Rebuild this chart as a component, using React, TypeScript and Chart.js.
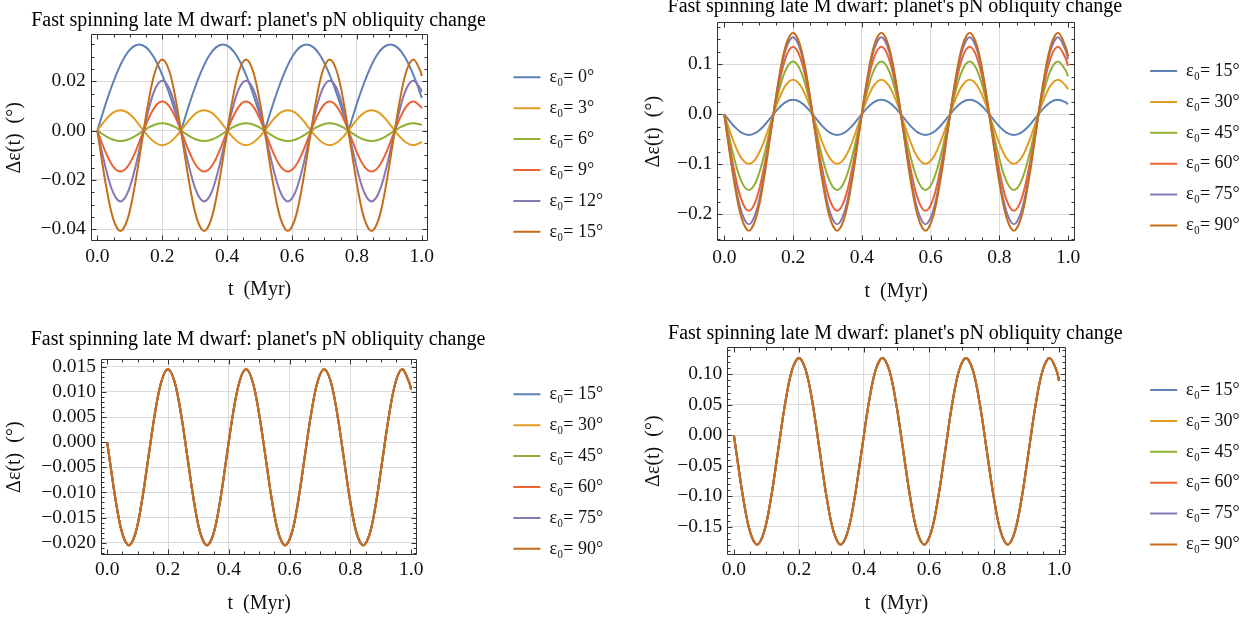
import React, { useEffect, useRef } from 'react';
import { Chart, registerables } from 'chart.js';

Chart.register(...registerables);

// ---------------- data ----------------
const TITLE = "Fast spinning late M dwarf: planet's pN obliquity change";
const X_TITLE = 't  (Myr)';
const Y_TITLE = 'Δε(t)  (°)';
const LABELS_TOP_LEFT = ['ε₀= 0°', 'ε₀= 3°', 'ε₀= 6°', 'ε₀= 9°', 'ε₀= 12°', 'ε₀= 15°'];
const LABELS_OTHER = ['ε₀= 15°', 'ε₀= 30°', 'ε₀= 45°', 'ε₀= 60°', 'ε₀= 75°', 'ε₀= 90°'];

// top-left panel: sample times (Myr)
const P1_T = [0, 0.0067, 0.0282, 0.0497, 0.0712, 0.0927, 0.1142, 0.1357, 0.1572, 0.1787, 0.2002, 0.2217, 0.2432,
  0.2647, 0.2862, 0.3077, 0.3292, 0.3507, 0.3722, 0.3937, 0.4152, 0.4367, 0.4582, 0.4797, 0.5012,
  0.5227, 0.5442, 0.5657, 0.5872, 0.6087, 0.6302, 0.6517, 0.6732, 0.6947, 0.7162, 0.7377, 0.7592,
  0.7807, 0.8022, 0.8237, 0.8452, 0.8667, 0.8882, 0.9097, 0.9312, 0.9527, 0.9742, 0.9957, 1];
// eps0 = 0 deg curve has cusps at its zeros (repeated sample marks the cusp)
const P1_T_EPS0 = [0, 0.0215, 0.0430, 0.0645, 0.0860, 0.1075, 0.1290, 0.1505, 0.1720, 0.1935, 0.2150, 0.2365, 0.2580, 0.2580,
  0.2795, 0.3010, 0.3225, 0.3440, 0.3655, 0.3870, 0.4085, 0.4300, 0.4515, 0.4730, 0.4945, 0.5160, 0.5160,
  0.5375, 0.5590, 0.5805, 0.6020, 0.6235, 0.6450, 0.6665, 0.6880, 0.7095, 0.7310, 0.7525, 0.7740, 0.7740,
  0.7955, 0.8170, 0.8385, 0.8600, 0.8815, 0.9030, 0.9245, 0.9460, 0.9675, 0.9890, 1];
const P1_EPS0 = [0, 0.0091, 0.0175, 0.0247, 0.0303, 0.0338, 0.0350, 0.0338, 0.0303, 0.0247, 0.0175, 0.0091, 0, 0,
  0.0091, 0.0175, 0.0247, 0.0303, 0.0338, 0.0350, 0.0338, 0.0303, 0.0247, 0.0175, 0.0091, 0, 0,
  0.0091, 0.0175, 0.0247, 0.0303, 0.0338, 0.0350, 0.0338, 0.0303, 0.0247, 0.0175, 0.0091, 0, 0,
  0.0091, 0.0175, 0.0247, 0.0303, 0.0338, 0.0350, 0.0338, 0.0303, 0.0247, 0.0175, 0.0133];
const P1_EPS3 = [0,
  0.0012, 0.0048, 0.0074, 0.0083, 0.0074, 0.0048, 0.0012, -0.0023, -0.0049, -0.0059, -0.0049, -0.0023,
  0.0012, 0.0048, 0.0074, 0.0083, 0.0074, 0.0048, 0.0012, -0.0023, -0.0049, -0.0059, -0.0049, -0.0023,
  0.0012, 0.0048, 0.0074, 0.0083, 0.0074, 0.0048, 0.0012, -0.0023, -0.0049, -0.0059, -0.0049, -0.0023,
  0.0012, 0.0048, 0.0074, 0.0083, 0.0074, 0.0048, 0.0012, -0.0023, -0.0049, -0.0059, -0.0049, -0.0045];
const P1_EPS6 = [0,
  -0.0006, -0.0024, -0.0037, -0.0042, -0.0037, -0.0024, -0.0006, 0.0012, 0.0025, 0.0030, 0.0025, 0.0012,
  -0.0006, -0.0024, -0.0037, -0.0042, -0.0037, -0.0024, -0.0006, 0.0012, 0.0025, 0.0030, 0.0025, 0.0012,
  -0.0006, -0.0024, -0.0037, -0.0042, -0.0037, -0.0024, -0.0006, 0.0012, 0.0025, 0.0030, 0.0025, 0.0012,
  -0.0006, -0.0024, -0.0037, -0.0042, -0.0037, -0.0024, -0.0006, 0.0012, 0.0025, 0.0030, 0.0025, 0.0023];
const P1_EPS9 = [0,
  -0.0024, -0.0095, -0.0147, -0.0166, -0.0147, -0.0095, -0.0024, 0.0047, 0.0099, 0.0118, 0.0099, 0.0047,
  -0.0024, -0.0095, -0.0147, -0.0166, -0.0147, -0.0095, -0.0024, 0.0047, 0.0099, 0.0118, 0.0099, 0.0047,
  -0.0024, -0.0095, -0.0147, -0.0166, -0.0147, -0.0095, -0.0024, 0.0047, 0.0099, 0.0118, 0.0099, 0.0047,
  -0.0024, -0.0095, -0.0147, -0.0166, -0.0147, -0.0095, -0.0024, 0.0047, 0.0099, 0.0118, 0.0099, 0.0091];
const P1_EPS12 = [0,
  -0.0042, -0.0164, -0.0254, -0.0287, -0.0254, -0.0164, -0.0042, 0.0081, 0.0171, 0.0203, 0.0171, 0.0081,
  -0.0042, -0.0164, -0.0254, -0.0287, -0.0254, -0.0164, -0.0042, 0.0081, 0.0171, 0.0203, 0.0171, 0.0081,
  -0.0042, -0.0164, -0.0254, -0.0287, -0.0254, -0.0164, -0.0042, 0.0081, 0.0171, 0.0203, 0.0171, 0.0081,
  -0.0042, -0.0164, -0.0254, -0.0287, -0.0254, -0.0164, -0.0042, 0.0081, 0.0171, 0.0203, 0.0171, 0.0157];
const P1_EPS15 = [0,
  -0.0059, -0.0233, -0.0361, -0.0407, -0.0361, -0.0233, -0.0059, 0.0115, 0.0242, 0.0289, 0.0242, 0.0115,
  -0.0059, -0.0233, -0.0361, -0.0407, -0.0361, -0.0233, -0.0059, 0.0115, 0.0242, 0.0289, 0.0242, 0.0115,
  -0.0059, -0.0233, -0.0361, -0.0407, -0.0361, -0.0233, -0.0059, 0.0115, 0.0242, 0.0289, 0.0242, 0.0115,
  -0.0059, -0.0233, -0.0361, -0.0407, -0.0361, -0.0233, -0.0059, 0.0115, 0.0242, 0.0289, 0.0242, 0.0222];

// the three other panels share this time grid (Myr)
const T_GRID = [0, 0.0070, 0.0284, 0.0498, 0.0712, 0.0926, 0.1140, 0.1355, 0.1569, 0.1783, 0.1997, 0.2212, 0.2426,
  0.2640, 0.2854, 0.3068, 0.3282, 0.3497, 0.3711, 0.3925, 0.4139, 0.4353, 0.4567, 0.4781, 0.4995,
  0.5210, 0.5424, 0.5638, 0.5852, 0.6066, 0.6280, 0.6495, 0.6709, 0.6923, 0.7137, 0.7351, 0.7565,
  0.7780, 0.7994, 0.8208, 0.8422, 0.8636, 0.8850, 0.9065, 0.9279, 0.9493, 0.9707, 0.9921, 1];

// top-right panel
const P2_EPS15 = [0,
  -0.0062, -0.0238, -0.0367, -0.0414, -0.0367, -0.0238, -0.0062, 0.0114, 0.0243, 0.0290, 0.0243, 0.0114,
  -0.0062, -0.0238, -0.0367, -0.0414, -0.0367, -0.0238, -0.0062, 0.0114, 0.0243, 0.0290, 0.0243, 0.0114,
  -0.0062, -0.0238, -0.0367, -0.0414, -0.0367, -0.0238, -0.0062, 0.0114, 0.0243, 0.0290, 0.0243, 0.0114,
  -0.0062, -0.0238, -0.0367, -0.0414, -0.0367, -0.0238, -0.0062, 0.0114, 0.0243, 0.0290, 0.0243, 0.0203];
const P2_EPS30 = [0,
  -0.0149, -0.0569, -0.0877, -0.0990, -0.0877, -0.0569, -0.0149, 0.0272, 0.0579, 0.0692, 0.0579, 0.0272,
  -0.0149, -0.0569, -0.0877, -0.0990, -0.0877, -0.0569, -0.0149, 0.0272, 0.0579, 0.0692, 0.0579, 0.0272,
  -0.0149, -0.0569, -0.0877, -0.0990, -0.0877, -0.0569, -0.0149, 0.0272, 0.0579, 0.0692, 0.0579, 0.0272,
  -0.0149, -0.0569, -0.0877, -0.0990, -0.0877, -0.0569, -0.0149, 0.0272, 0.0579, 0.0692, 0.0579, 0.0500];
const P2_EPS45 = [0,
  -0.0227, -0.0870, -0.1340, -0.1512, -0.1340, -0.0870, -0.0227, 0.0415, 0.0885, 0.1058, 0.0885, 0.0415,
  -0.0227, -0.0870, -0.1340, -0.1512, -0.1340, -0.0870, -0.0227, 0.0415, 0.0885, 0.1058, 0.0885, 0.0415,
  -0.0227, -0.0870, -0.1340, -0.1512, -0.1340, -0.0870, -0.0227, 0.0415, 0.0885, 0.1058, 0.0885, 0.0415,
  -0.0227, -0.0870, -0.1340, -0.1512, -0.1340, -0.0870, -0.0227, 0.0415, 0.0885, 0.1058, 0.0885, 0.0760];
const P2_EPS60 = [0,
  -0.0290, -0.1110, -0.1711, -0.1930, -0.1711, -0.1110, -0.0290, 0.0530, 0.1130, 0.1350, 0.1130, 0.0530,
  -0.0290, -0.1110, -0.1711, -0.1930, -0.1711, -0.1110, -0.0290, 0.0530, 0.1130, 0.1350, 0.1130, 0.0530,
  -0.0290, -0.1110, -0.1711, -0.1930, -0.1711, -0.1110, -0.0290, 0.0530, 0.1130, 0.1350, 0.1130, 0.0530,
  -0.0290, -0.1110, -0.1711, -0.1930, -0.1711, -0.1110, -0.0290, 0.0530, 0.1130, 0.1350, 0.1130, 0.0965];
const P2_EPS75 = [0,
  -0.0331, -0.1266, -0.1950, -0.2201, -0.1950, -0.1266, -0.0331, 0.0604, 0.1288, 0.1539, 0.1288, 0.0604,
  -0.0331, -0.1266, -0.1950, -0.2201, -0.1950, -0.1266, -0.0331, 0.0604, 0.1288, 0.1539, 0.1288, 0.0604,
  -0.0331, -0.1266, -0.1950, -0.2201, -0.1950, -0.1266, -0.0331, 0.0604, 0.1288, 0.1539, 0.1288, 0.0604,
  -0.0331, -0.1266, -0.1950, -0.2201, -0.1950, -0.1266, -0.0331, 0.0604, 0.1288, 0.1539, 0.1288, 0.1100];
const P2_EPS90 = [0,
  -0.0350, -0.1340, -0.2065, -0.2330, -0.2065, -0.1340, -0.0350, 0.0640, 0.1364, 0.1630, 0.1364, 0.0640,
  -0.0350, -0.1340, -0.2065, -0.2330, -0.2065, -0.1340, -0.0350, 0.0640, 0.1364, 0.1630, 0.1364, 0.0640,
  -0.0350, -0.1340, -0.2065, -0.2330, -0.2065, -0.1340, -0.0350, 0.0640, 0.1364, 0.1630, 0.1364, 0.0640,
  -0.0350, -0.1340, -0.2065, -0.2330, -0.2065, -0.1340, -0.0350, 0.0640, 0.1364, 0.1630, 0.1364, 0.1160];

// bottom-left panel: the six curves coincide
const P3_ALL = [0,
  -0.0030, -0.0118, -0.0182, -0.0205, -0.0182, -0.0118, -0.0030, 0.0057, 0.0121, 0.0145, 0.0121, 0.0057,
  -0.0030, -0.0118, -0.0182, -0.0205, -0.0182, -0.0118, -0.0030, 0.0057, 0.0121, 0.0145, 0.0121, 0.0057,
  -0.0030, -0.0118, -0.0182, -0.0205, -0.0182, -0.0118, -0.0030, 0.0057, 0.0121, 0.0145, 0.0121, 0.0057,
  -0.0030, -0.0118, -0.0182, -0.0205, -0.0182, -0.0118, -0.0030, 0.0057, 0.0121, 0.0145, 0.0121, 0.0105];
// bottom-right panel: the six curves coincide
const P4_ALL = [0,
  -0.0263, -0.1028, -0.1588, -0.1793, -0.1588, -0.1028, -0.0263, 0.0502, 0.1062, 0.1267, 0.1062, 0.0502,
  -0.0263, -0.1028, -0.1588, -0.1793, -0.1588, -0.1028, -0.0263, 0.0502, 0.1062, 0.1267, 0.1062, 0.0502,
  -0.0263, -0.1028, -0.1588, -0.1793, -0.1588, -0.1028, -0.0263, 0.0502, 0.1062, 0.1267, 0.1062, 0.0502,
  -0.0263, -0.1028, -0.1588, -0.1793, -0.1588, -0.1028, -0.0263, 0.0502, 0.1062, 0.1267, 0.1062, 0.0892];

// ---------------- styling / layout ----------------
const SERIF = '"Liberation Serif", "Times New Roman", "DejaVu Serif", serif';
const COLORS = ['#5E81B5', '#E19C24', '#8FB032', '#EB6235', '#8778B3', '#C56E1A'];
const GRID = '#dadada';
const INK = '#111111';
const CANVAS_H = 310;
const LEGEND_W = 115;      // legend box width (text must fit inside, it is clipped)
const LEGEND_PAD = 12.9;   // legend label padding (also row spacing)

type Series = { label: string; t: number[]; y: number[] };

interface PanelLayout {
  top: number;            // page y of the canvas
  panelRight: number;     // page x where this panel's canvas ends
  areaL: number; areaR: number; // page x of plot frame
  legendLine: number;     // page x where legend swatches start
  yTitleX: number;        // page x of y-title centre
  xAxisH: number; padB: number; xTickPad: number;
  titlePadTop: number; titlePadBottom: number; legendSpacer: number;
}

interface PanelSpec {
  series: Series[];
  yMin: number; yMax: number; yStep: number; yDec: number; yMinor: number;
  lay: PanelLayout;
}

const mk = (labels: string[], ts: number[][], ys: number[][]): Series[] =>
  labels.map((label, i) => ({ label, t: ts[i], y: ys[i] }));

const PANELS: PanelSpec[] = [
  {
    series: mk(LABELS_TOP_LEFT, [P1_T_EPS0, P1_T, P1_T, P1_T, P1_T, P1_T],
      [P1_EPS0, P1_EPS3, P1_EPS6, P1_EPS9, P1_EPS12, P1_EPS15]),
    yMin: -0.0449, yMax: 0.0391, yStep: 0.02, yDec: 2, yMinor: 0.005,
    lay: { top: 0, panelRight: 626, areaL: 90.7, areaR: 426, legendLine: 511, yTitleX: 15,
      xAxisH: 60.7, padB: 8, xTickPad: 4, titlePadTop: 15.25, titlePadBottom: 9.05, legendSpacer: 43.4 },
  },
  {
    series: mk(LABELS_OTHER, [T_GRID, T_GRID, T_GRID, T_GRID, T_GRID, T_GRID],
      [P2_EPS15, P2_EPS30, P2_EPS45, P2_EPS60, P2_EPS75, P2_EPS90]),
    yMin: -0.254, yMax: 0.1846, yStep: 0.1, yDec: 1, yMinor: 0.025,
    lay: { top: 0, panelRight: 1252, areaL: 717.3, areaR: 1072.7, legendLine: 1147.7, yTitleX: 653.3,
      xAxisH: 62.4, padB: 6.3, xTickPad: 4.5, titlePadTop: 1.75, titlePadBottom: 10.25, legendSpacer: 37.1 },
  },
  {
    series: mk(LABELS_OTHER, [T_GRID, T_GRID, T_GRID, T_GRID, T_GRID, T_GRID],
      [P3_ALL, P3_ALL, P3_ALL, P3_ALL, P3_ALL, P3_ALL]),
    yMin: -0.02245, yMax: 0.0165, yStep: 0.005, yDec: 3, yMinor: 0.001,
    lay: { top: 310, panelRight: 626, areaL: 101, areaR: 415, legendLine: 511, yTitleX: 15,
      xAxisH: 60.3, padB: 4.7, xTickPad: 3.5, titlePadTop: 24.25, titlePadBottom: 15.05, legendSpacer: 50.4 },
  },
  {
    series: mk(LABELS_OTHER, [T_GRID, T_GRID, T_GRID, T_GRID, T_GRID, T_GRID],
      [P4_ALL, P4_ALL, P4_ALL, P4_ALL, P4_ALL, P4_ALL]),
    yMin: -0.1964, yMax: 0.1443, yStep: 0.05, yDec: 2, yMinor: 0.01,
    lay: { top: 310, panelRight: 1252, areaL: 727.3, areaR: 1063.3, legendLine: 1147.7, yTitleX: 653.3,
      xAxisH: 60.3, padB: 4.7, xTickPad: 3.5, titlePadTop: 18.25, titlePadBottom: 9.05, legendSpacer: 46.1 },
  },
];

// Canvas geometry so that the (full-width) title is centred over the plot frame
function geometry(l: PanelLayout) {
  const centre = (l.areaL + l.areaR) / 2;
  const legendLeft = l.legendLine - LEGEND_PAD;
  const x0 = Math.round(2 * centre - legendLeft - LEGEND_W);
  const width = l.panelRight - x0;
  const padR = width - (legendLeft + LEGEND_W - x0);
  return {
    x0, width, padR,
    yAxisW: l.areaL - x0,
    gapW: legendLeft - l.areaR,
    yTitlePad: l.yTitleX - x0 - 12,
  };
}

const fmt = (v: number, d: number) => {
  const r = Math.abs(v) < 1e-9 ? 0 : v;
  return r.toFixed(d).replace('-', '\u2212');
};

const minorValues = (min: number, max: number, step: number) => {
  const out: number[] = [];
  const start = Math.ceil(min / step - 1e-9);
  for (let k = start; k * step <= max + 1e-12; k++) out.push(k * step);
  return out;
};

// Mathematica-style frame with inward ticks on all four sides
const framePlugin = {
  id: 'frameTicks',
  afterDatasetsDraw(chart: any, _args: any, opts: any) {
    const { ctx, chartArea } = chart;
    const xs = chart.scales.x;
    const ys = chart.scales.y;
    const L = Math.round(chartArea.left) + 0.5;
    const R = Math.round(chartArea.right) - 0.5;
    const T = Math.round(chartArea.top) + 0.5;
    const B = Math.round(chartArea.bottom) - 0.5;
    ctx.save();
    ctx.strokeStyle = '#333333';
    ctx.lineWidth = 1;
    ctx.beginPath();
    ctx.rect(L, T, R - L, B - T);
    const xTick = (v: number, len: number) => {
      const p = Math.round(xs.getPixelForValue(v)) + 0.5;
      ctx.moveTo(p, B); ctx.lineTo(p, B - len);
      ctx.moveTo(p, T); ctx.lineTo(p, T + len);
    };
    const yTick = (v: number, len: number) => {
      const p = Math.round(ys.getPixelForValue(v)) + 0.5;
      ctx.moveTo(L, p); ctx.lineTo(L + len, p);
      ctx.moveTo(R, p); ctx.lineTo(R - len, p);
    };
    minorValues(xs.min, xs.max, opts.xMinor).forEach((v) => xTick(v, 3));
    xs.ticks.forEach((t: any) => xTick(t.value, 5));
    minorValues(ys.min, ys.max, opts.yMinor).forEach((v) => yTick(v, 3));
    ys.ticks.forEach((t: any) => yTick(t.value, 5));
    ctx.stroke();
    ctx.restore();
  },
};

function Panel({ spec }: { spec: PanelSpec }) {
  const ref = useRef<HTMLCanvasElement>(null);
  const g = geometry(spec.lay);
  const l = spec.lay;
  useEffect(() => {
    const canvas = ref.current;
    if (!canvas) return;
    const n = spec.series.length;
    const chart = new Chart(canvas, {
      type: 'line',
      data: {
        datasets: spec.series.map((s, i) => ({
          label: s.label,
          data: s.t.map((t, k) => ({ x: t, y: s.y[k] })),
          borderColor: COLORS[i],
          backgroundColor: COLORS[i],
          borderWidth: 2,
          pointRadius: 0,
          tension: 0.35,
          fill: false,
          order: n - i,
          xAxisID: 'x',
          yAxisID: 'y',
        })),
      },
      options: {
        responsive: false,
        animation: false,
        devicePixelRatio: 1,
        events: [],
        layout: { padding: { left: 0, top: 0, right: g.padR, bottom: l.padB } },
        scales: {
          x: {
            type: 'linear',
            position: 'bottom',
            min: -0.0204,
            max: 1.0204,
            afterFit: (s: any) => { s.height = l.xAxisH; },
            ticks: {
              stepSize: 0.2,
              includeBounds: false,
              autoSkip: false,
              maxRotation: 0,
              padding: l.xTickPad,
              color: INK,
              font: { family: SERIF, size: 19.5 },
              callback: (v: any) => fmt(Number(v), 1),
            },
            grid: {
              drawTicks: false,
              lineWidth: 1,
              color: (c: any) => {
                const v = c.tick ? c.tick.value : NaN;
                if (!isFinite(v) || Math.abs(v) < 1e-9 || Math.abs(v - 1) < 1e-9) return 'rgba(0,0,0,0)';
                return GRID;
              },
            },
            border: { display: false },
            title: {
              display: true,
              text: X_TITLE,
              color: INK,
              font: { family: SERIF, size: 20 },
              padding: { top: 0, bottom: 0 },
            },
          },
          y: {
            type: 'linear',
            position: 'left',
            min: spec.yMin,
            max: spec.yMax,
            afterFit: (s: any) => { s.width = g.yAxisW; },
            ticks: {
              stepSize: spec.yStep,
              includeBounds: false,
              autoSkip: false,
              padding: 5,
              color: INK,
              font: { family: SERIF, size: 19.5 },
              callback: (v: any) => fmt(Number(v), spec.yDec),
            },
            grid: { drawTicks: false, lineWidth: 1, color: GRID },
            border: { display: false },
            title: {
              display: true,
              text: Y_TITLE,
              color: INK,
              font: { family: SERIF, size: 20 },
              padding: { top: g.yTitlePad, bottom: 0 },
            },
          },
          gap: {
            type: 'linear',
            position: 'right',
            display: true,
            afterFit: (s: any) => { s.width = g.gapW; },
            ticks: { display: false },
            grid: { display: false },
            border: { display: false },
          },
        },
        plugins: {
          title: {
            display: true,
            text: TITLE,
            fullSize: true,
            color: '#000',
            font: { family: SERIF, size: 20, weight: 'normal', lineHeight: 0.5 },
            padding: { top: l.titlePadTop, bottom: l.titlePadBottom },
          },
          legend: {
            display: true,
            position: 'right',
            align: 'start',
            maxWidth: LEGEND_W,
            title: {
              display: true,
              text: ' ',
              font: { size: 10, lineHeight: 1.2 },
              padding: { top: l.legendSpacer, bottom: 0 },
            },
            labels: {
              boxWidth: 27,
              boxHeight: 0,
              padding: LEGEND_PAD,
              color: INK,
              font: { family: SERIF, size: 18 },
              sort: (a: any, b: any) => a.datasetIndex - b.datasetIndex,
            },
          },
          tooltip: { enabled: false },
          frameTicks: { xMinor: 0.05, yMinor: spec.yMinor },
        } as any,
      },
      plugins: [framePlugin],
    } as any);
    return () => chart.destroy();
  }, [spec]);
  return (
    <canvas
      ref={ref}
      width={g.width}
      height={CANVAS_H}
      style={{ position: 'absolute', left: g.x0, top: l.top, width: g.width, height: CANVAS_H }}
    />
  );
}

export default function App() {
  return (
    <div style={{ position: 'absolute', left: 0, top: 0, width: 1252, height: 620, background: '#ffffff', overflow: 'hidden' }}>
      {PANELS.map((p, i) => <Panel key={i} spec={p} />)}
    </div>
  );
}
